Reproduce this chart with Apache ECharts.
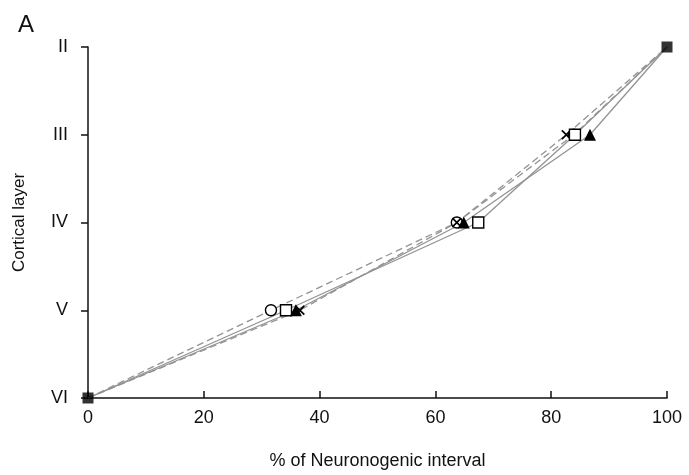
<!DOCTYPE html>
<html>
<head>
<meta charset="utf-8">
<script src="https://cdn.jsdelivr.net/npm/echarts@6/dist/echarts.min.js"></script>
<style>
  html, body { margin: 0; padding: 0; background: #fff; }
  #chart { width: 689px; height: 475px; }
</style>
</head>
<body>
<div id="chart"></div>
<script>
// layer index: 0 = VI ... 4 = II
const layerLabels = ['VI', 'V', 'IV', 'III', 'II']
const layers = [0, 1, 2, 3, 4]
// % of neuronogenic interval for each layer
const circleX = [0, 31.6, 63.7, 83.9, 100]
const squareX = [0, 34.2, 67.4, 84.1, 100]
const triangleX = [0, 35.9, 64.9, 86.7, 100]
const crossX = [0, 36.6, 63.7, 82.6, 100]
const endX = [0, 100]
const endY = [0, 4]

const crossPath = 'path://M0,1.2L1.2,0L5,3.8L8.8,0L10,1.2L6.2,5L10,8.8L8.8,10L5,6.2L1.2,10L0,8.8L3.8,5Z'

function pairs(xs, ys) {
    return xs.map((x, i) => [x, ys[i]])
}
// inner points only get the series marker, endpoints are the shared black squares
function innerOnly(size) {
    return function (val, params) {
        return (params.dataIndex === 0 || params.dataIndex === 4) ? 0 : size
    }
}

function makeSeries(name, xs, symbol, size, dashed, filled) {
    return {
        name: name, type: 'line', data: pairs(xs, layers),
        symbol: symbol, symbolSize: innerOnly(size), showSymbol: true,
        lineStyle: { color: '#939393', width: 1.3, type: dashed ? [7, 4] : 'solid' },
        itemStyle: filled
            ? { color: '#000', borderWidth: 0 }
            : { color: '#fff', borderColor: '#000', borderWidth: 1.4 },
        z: 3
    }
}

let myChart = echarts.init(document.getElementById('chart'))
let option = {
    animation: false,
    backgroundColor: '#fff',
    textStyle: { fontFamily: 'Liberation Sans, Arial, sans-serif' },
    title: {
        text: 'A', left: 13, top: 8,
        textStyle: { fontSize: 24, fontWeight: 'normal', color: '#111' }
    },
    grid: { left: 88, right: 22, top: 47, bottom: 76 },
    xAxis: {
        type: 'value', min: 0, max: 100, interval: 20,
        name: '% of Neuronogenic interval', nameLocation: 'middle', nameGap: 54,
        nameTextStyle: { fontSize: 18, color: '#111' },
        axisLine: { lineStyle: { color: '#111', width: 1.5 } },
        axisTick: { inside: true, length: 7, lineStyle: { color: '#111', width: 1.5 } },
        axisLabel: { fontSize: 18, color: '#111', margin: 11 },
        splitLine: { show: false }
    },
    yAxis: {
        type: 'value', min: 0, max: 4, interval: 1,
        name: 'Cortical layer', nameLocation: 'middle', nameGap: 60,
        nameTextStyle: { fontSize: 17, color: '#111' },
        axisLine: { show: true, lineStyle: { color: '#111', width: 1.5 } },
        axisTick: { show: true, length: 7, lineStyle: { color: '#111', width: 1.5 } },
        axisLabel: { fontSize: 18, color: '#111', margin: 20, formatter: v => layerLabels[v] },
        splitLine: { show: false }
    },
    series: [
        makeSeries('circle', circleX, 'circle', 11, true, false),
        makeSeries('cross', crossX, crossPath, 10, true, true),
        makeSeries('square', squareX, 'rect', 11, false, false),
        makeSeries('triangle', triangleX, 'triangle', 12, false, true),
        {
            name: 'ends', type: 'scatter', data: pairs(endX, endY),
            symbol: 'rect', symbolSize: 11,
            itemStyle: { color: '#000' }, z: 5
        }
    ]
}
myChart.setOption(option)
window.addEventListener('resize', function () {
    myChart.resize()
})
</script>
</body>
</html>
